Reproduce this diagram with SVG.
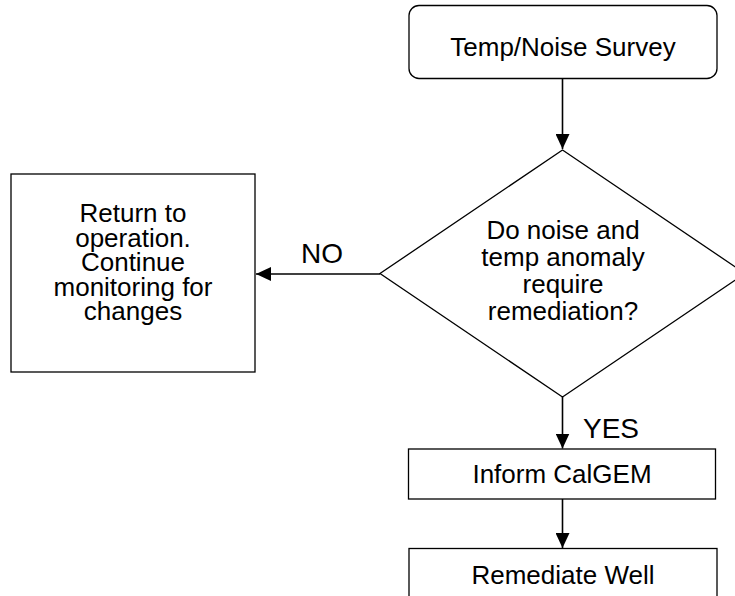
<svg xmlns="http://www.w3.org/2000/svg" width="735" height="596" viewBox="0 0 735 596">
  <style>
    .box { fill: #ffffff; stroke: #000000; stroke-width: 1.3; }
    .lbl { font-family: "Liberation Sans", Arial, sans-serif; font-size: 26px; fill: #000000; text-anchor: middle; }
    .tag { font-family: "Liberation Sans", Arial, sans-serif; font-size: 28px; fill: #000000; text-anchor: middle; }
    .edge { fill: none; stroke: #000000; stroke-width: 1.6; }
  </style>
  <defs>
    <marker id="arrow" viewBox="0 0 15 14" refX="15" refY="7" markerWidth="15" markerHeight="14" markerUnits="userSpaceOnUse" orient="auto">
      <path d="M0,0 L15,7 L0,14 Z" fill="#000000"/>
    </marker>
  </defs>
  <rect width="735" height="596" fill="#ffffff"/>

  <g id="connectors">
    <line class="edge" x1="562.5" y1="78" x2="562.5" y2="149" marker-end="url(#arrow)"/>
    <line class="edge" x1="380" y1="274" x2="256" y2="274" marker-end="url(#arrow)"/>
    <line class="edge" x1="562.5" y1="397" x2="562.5" y2="448.5" marker-end="url(#arrow)"/>
    <line class="edge" x1="562.5" y1="499" x2="562.5" y2="548" marker-end="url(#arrow)"/>
    <text class="tag" x="322" y="263">NO</text>
    <text class="tag" x="611" y="438">YES</text>
  </g>

  <g id="survey">
    <rect class="box" x="409" y="5.5" width="308" height="73" rx="10" ry="10"/>
    <text class="lbl" x="563" y="56">Temp/Noise Survey</text>
  </g>

  <g id="decision">
    <polygon class="box" points="562.5,150 745,273.5 562.5,397 380,273.5"/>
    <text class="lbl" x="563" y="239">Do noise and</text>
    <text class="lbl" x="563" y="266">temp anomaly</text>
    <text class="lbl" x="563" y="293">require</text>
    <text class="lbl" x="563" y="320">remediation?</text>
  </g>

  <g id="return">
    <rect class="box" x="11" y="174" width="244" height="198"/>
    <text class="lbl" x="133" y="222">Return to</text>
    <text class="lbl" x="133" y="246.5">operation.</text>
    <text class="lbl" x="133" y="271">Continue</text>
    <text class="lbl" x="133" y="295.5">monitoring for</text>
    <text class="lbl" x="133" y="320">changes</text>
  </g>

  <g id="inform">
    <rect class="box" x="408.5" y="449" width="307" height="50"/>
    <text class="lbl" x="562" y="483">Inform CalGEM</text>
  </g>

  <g id="remediate">
    <rect class="box" x="409" y="548.5" width="308" height="60"/>
    <text class="lbl" x="563" y="584">Remediate Well</text>
  </g>
</svg>
